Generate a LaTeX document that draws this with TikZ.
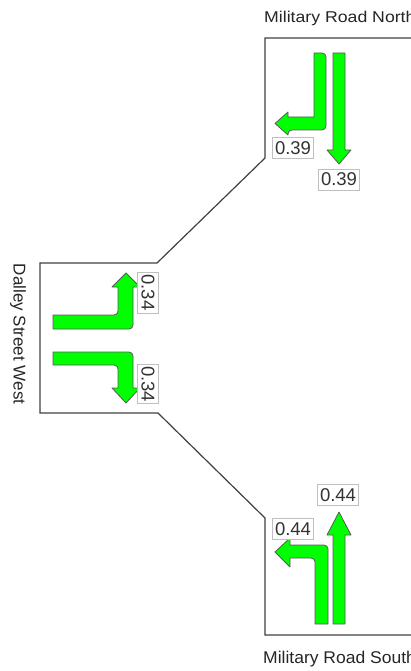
\documentclass[tikz,border=0pt]{standalone}
\usepackage{fontspec}
\setmainfont{Liberation Sans}
\begin{document}
\begin{tikzpicture}[x=1pt,y=-1pt,
  road/.style={draw=black!75,line width=1.2pt},
  arr/.style={fill={rgb,255:red,0;green,255;blue,0},draw=black!65,line width=0.8pt,line join=round},
  vol/.style={draw=black!25,fill=white,line width=0.7pt,inner sep=0pt,minimum width=41pt,minimum height=21pt,font=\fontsize{18.5}{20}\selectfont,text=black!80},
  title/.style={inner sep=0pt,font=\fontsize{17}{20}\selectfont,text=black!85}]
\useasboundingbox (0,0) rectangle (411,671);
% road outline
\coordinate (nTop) at (411,38);
\coordinate (nCorner) at (265,38);
\coordinate (nLow) at (265,158);
\coordinate (wTR) at (157,263);
\coordinate (wTL) at (40,263);
\coordinate (wBL) at (40,413);
\coordinate (wBR) at (158,413);
\coordinate (sUp) at (265,518);
\coordinate (sCorner) at (265,635);
\coordinate (sBot) at (411,635);
\draw[road] (nTop) -- (nCorner) -- (nLow) -- (wTR) -- (wTL) -- (wBL) -- (wBR) -- (sUp) -- (sCorner) -- (sBot);
% north approach arrows
\draw[arr,rounded corners=4pt] (314,53) -- (326,53) -- (326,130) -- (288,130) [sharp corners] -- (288,135) -- (275,123.5) -- (288,112) -- (288,117) -- (314,117) -- cycle;
\draw[arr] (333,53) -- (345,53) -- (345,150) -- (351,150) -- (339,164) -- (327,150) -- (333,150) -- cycle;
% west approach arrows
\draw[arr,rounded corners=4pt] (53,315) -- (118,315) [sharp corners] -- (118,287) -- (112,287) -- (126,273) -- (140,287) -- (133,287) [rounded corners=4pt] -- (133,329) [sharp corners] -- (53,329) -- cycle;
\draw[arr,rounded corners=4pt] (53,365) -- (118,365) [sharp corners] -- (118,388) -- (112,388) -- (126,403) -- (140,388) -- (133,388) [rounded corners=4pt] -- (133,352) [sharp corners] -- (53,352) -- cycle;
% south approach arrows
\draw[arr,rounded corners=4pt] (315,624) -- (315,558) [sharp corners] -- (290,558) -- (290,567) -- (275,552) -- (290,538) -- (290,545) [rounded corners=4pt] -- (328,545) [sharp corners] -- (328,624) -- cycle;
\draw[arr] (333,624) -- (333,535) -- (327,535) -- (339,512) -- (351,535) -- (345,535) -- (345,624) -- cycle;
% volume labels
\node[vol] (n1) at (293,148) {0.39};
\node[vol] (n2) at (339,179.5) {0.39};
\node[vol,rotate=-90] (w1) at (148,292.5) {0.34};
\node[vol,rotate=-90,minimum width=39pt] (w2) at (148,384) {0.34};
\node[vol] (s1) at (293,529) {0.44};
\node[vol] (s2) at (338,495) {0.44};
% approach names
\node[title,anchor=base west] (tn) at (264,22.7) {\scalebox{1.04}[0.92]{Military Road North}};
\node[title,anchor=base west] (ts) at (263,663) {\scalebox{1.03}[1]{Military Road South}};
\node[title,rotate=-90] (tw) at (18,334) {Dalley Street West};
\end{tikzpicture}
\end{document}
